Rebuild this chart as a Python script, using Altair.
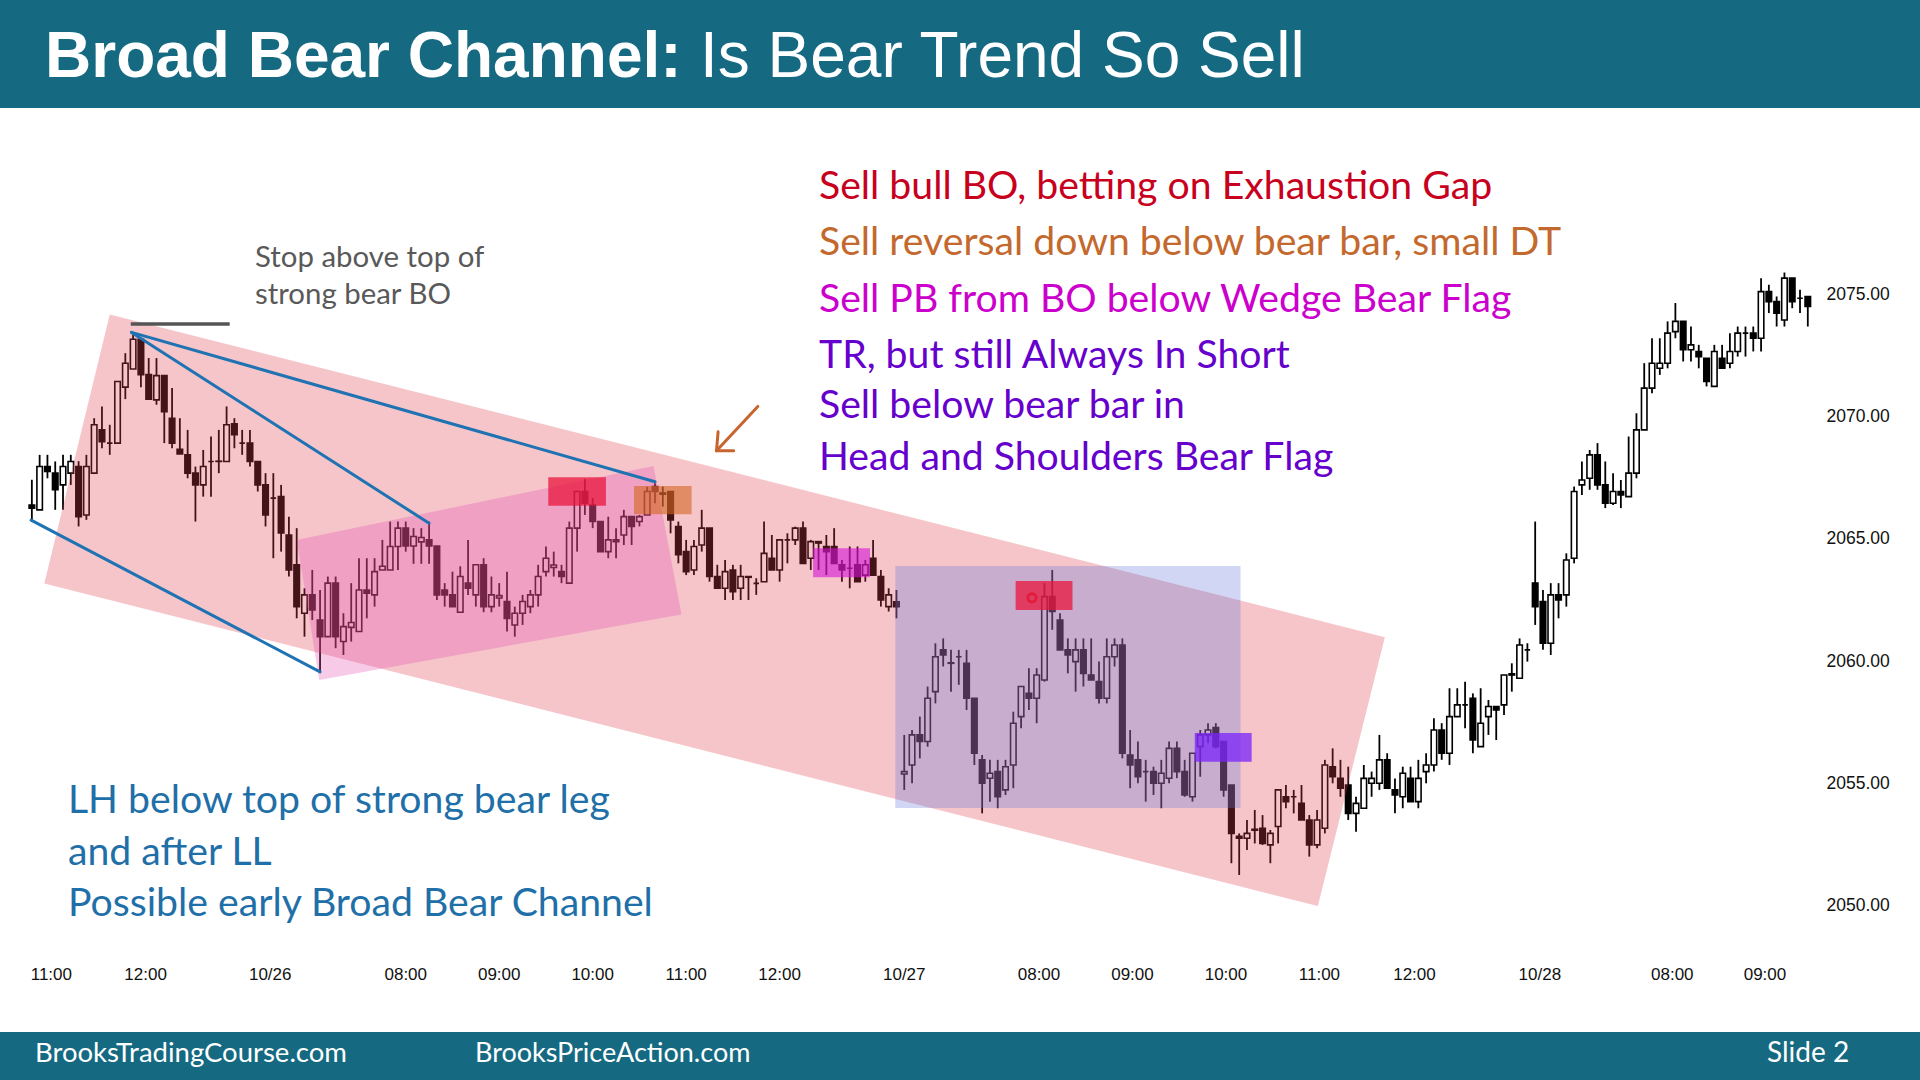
import altair as alt
import pandas as pd

# ---------------- data (5-minute bars, S&P e-mini) ----------------
OPEN = [
 2066.41, 2066.21, 2067.98, 2067.71, 2067.23, 2067.71, 2067.98, 2066.00, 2067.71, 2069.48,
 2068.94, 2068.94, 2071.23, 2071.97, 2073.19, 2071.74, 2070.71, 2071.70, 2069.96, 2068.69,
 2068.46, 2067.71, 2067.23, 2068.19, 2068.19, 2068.19, 2069.73, 2068.94, 2068.94, 2068.19,
 2067.23, 2066.69, 2066.75, 2065.18, 2063.96, 2061.98, 2062.73, 2061.70, 2061.02, 2063.21,
 2060.82, 2061.40, 2061.23, 2062.93, 2062.73, 2063.75, 2063.75, 2064.71, 2065.46, 2064.73,
 2064.90, 2064.98, 2064.73, 2062.93, 2062.73, 2062.02, 2063.21, 2062.73, 2063.96, 2062.25,
 2062.60, 2062.46, 2061.50, 2061.98, 2062.25, 2062.73, 2063.68, 2063.85, 2063.68, 2063.21,
 2065.46, 2066.96, 2066.41, 2065.73, 2064.50, 2064.98, 2065.18, 2065.93, 2065.73, 2066.00,
 2067.16, 2066.90, 2066.96, 2065.53, 2064.50, 2063.75, 2064.77, 2065.46, 2063.48, 2063.00,
 2063.75, 2063.00, 2063.48, 2063.20, 2063.27, 2064.23, 2063.75, 2064.98, 2064.98, 2065.46,
 2064.23, 2064.91, 2064.71, 2064.71, 2063.96, 2063.82, 2063.96, 2063.54, 2064.23, 2063.48,
 2062.25, 2062.45, 2055.40, 2055.77, 2057.00, 2056.73, 2058.77, 2060.48, 2059.95, 2060.20,
 2059.93, 2058.50, 2055.98, 2055.23, 2055.50, 2054.75, 2055.77, 2057.75, 2058.70, 2058.50,
 2059.25, 2062.66, 2061.70, 2060.48, 2060.00, 2060.48, 2059.45, 2059.18, 2058.50, 2060.20,
 2060.68, 2056.18, 2055.98, 2055.50, 2055.50, 2055.02, 2055.23, 2056.45, 2055.50, 2054.47,
 2056.52, 2057.00, 2057.30, 2056.73, 2054.95, 2052.85, 2052.77, 2053.10, 2053.18, 2052.50,
 2053.25, 2054.47, 2054.47, 2054.20, 2053.52, 2052.50, 2053.18, 2055.70, 2055.22, 2054.95,
 2053.79, 2054.00, 2055.02, 2055.02, 2055.98, 2054.75, 2054.47, 2055.22, 2054.27, 2055.50,
 2055.77, 2057.20, 2056.25, 2057.75, 2058.23, 2058.50, 2056.52, 2057.75, 2058.16, 2058.23,
 2059.45, 2059.32, 2060.48, 2063.21, 2062.46, 2060.75, 2062.73, 2062.73, 2064.23, 2067.23,
 2067.50, 2068.46, 2067.23, 2066.48, 2066.96, 2066.75, 2067.71, 2069.48, 2071.19, 2072.00,
 2072.21, 2073.50, 2073.92, 2072.76, 2072.69, 2072.41, 2071.26, 2072.41, 2072.21, 2072.69,
 2073.44, 2073.44, 2073.23, 2075.14, 2074.73, 2073.98, 2075.69, 2074.87, 2074.94,
]
HIGH = [
 2067.44, 2068.46, 2068.46, 2068.19, 2068.46, 2068.46, 2068.20, 2068.46, 2069.96, 2070.44,
 2069.69, 2071.46, 2072.62, 2073.44, 2073.19, 2072.42, 2072.42, 2071.70, 2071.19, 2069.96,
 2069.48, 2067.98, 2068.66, 2069.21, 2069.48, 2070.44, 2069.96, 2069.48, 2069.48, 2068.19,
 2067.71, 2067.71, 2067.23, 2065.93, 2065.46, 2063.00, 2063.75, 2062.93, 2063.48, 2063.48,
 2061.98, 2063.21, 2064.23, 2064.23, 2064.23, 2064.98, 2065.73, 2065.73, 2065.73, 2065.46,
 2065.46, 2065.73, 2064.73, 2063.21, 2063.68, 2063.90, 2064.98, 2063.96, 2064.23, 2063.48,
 2063.21, 2063.68, 2062.25, 2062.73, 2062.93, 2063.96, 2064.71, 2064.50, 2063.96, 2065.73,
 2066.96, 2067.46, 2066.69, 2065.73, 2065.93, 2065.46, 2066.21, 2065.93, 2066.00, 2067.16,
 2067.30, 2067.16, 2066.96, 2065.73, 2064.98, 2064.98, 2066.21, 2065.46, 2063.96, 2064.16,
 2063.96, 2063.96, 2063.50, 2063.41, 2065.73, 2065.18, 2064.98, 2065.25, 2065.52, 2065.73,
 2064.98, 2064.91, 2065.18, 2065.46, 2064.16, 2064.71, 2064.71, 2064.16, 2064.98, 2063.75,
 2063.00, 2062.93, 2057.00, 2057.20, 2057.75, 2058.98, 2060.75, 2060.95, 2060.48, 2060.48,
 2060.48, 2058.50, 2056.18, 2055.98, 2055.98, 2055.98, 2057.95, 2058.98, 2059.73, 2059.73,
 2063.21, 2063.75, 2061.98, 2060.95, 2060.95, 2060.95, 2060.95, 2060.00, 2060.95, 2060.95,
 2060.95, 2057.20, 2056.73, 2055.98, 2055.70, 2055.98, 2056.73, 2056.73, 2055.98, 2056.25,
 2057.20, 2057.48, 2057.48, 2056.73, 2054.95, 2052.97, 2053.52, 2053.93, 2053.72, 2053.11,
 2054.75, 2054.95, 2054.75, 2054.95, 2053.72, 2053.93, 2055.98, 2056.45, 2055.98, 2055.70,
 2054.47, 2055.77, 2055.50, 2057.00, 2056.25, 2055.22, 2055.70, 2055.70, 2055.98, 2056.25,
 2057.68, 2057.48, 2058.91, 2058.91, 2059.18, 2058.70, 2058.91, 2058.43, 2058.16, 2059.45,
 2059.93, 2060.95, 2060.75, 2065.73, 2062.93, 2063.21, 2063.21, 2064.43, 2067.16, 2068.19,
 2068.66, 2068.94, 2068.19, 2067.71, 2067.43, 2069.21, 2070.16, 2072.21, 2073.23, 2073.23,
 2073.92, 2074.67, 2073.92, 2073.71, 2072.96, 2072.41, 2072.96, 2072.96, 2073.44, 2073.71,
 2073.71, 2073.71, 2075.69, 2075.42, 2074.94, 2075.92, 2075.69, 2075.21, 2074.94,
]
LOW = [
 2065.80, 2066.21, 2067.50, 2066.21, 2066.21, 2067.23, 2065.53, 2065.80, 2067.71, 2068.73,
 2068.46, 2068.94, 2070.74, 2071.97, 2071.23, 2070.74, 2070.51, 2068.94, 2068.73, 2068.50,
 2067.50, 2065.73, 2066.75, 2066.75, 2067.71, 2068.19, 2068.73, 2068.46, 2067.98, 2066.96,
 2065.53, 2064.23, 2064.50, 2063.48, 2061.77, 2061.02, 2061.70, 2059.59, 2061.02, 2060.55,
 2060.27, 2060.82, 2061.23, 2061.77, 2062.25, 2063.75, 2063.75, 2063.75, 2064.50, 2064.00,
 2064.00, 2064.00, 2062.52, 2062.25, 2062.25, 2062.02, 2062.73, 2062.25, 2062.02, 2062.02,
 2062.25, 2061.23, 2061.02, 2061.50, 2061.98, 2062.25, 2063.48, 2063.48, 2063.21, 2063.21,
 2064.50, 2066.00, 2065.46, 2064.50, 2064.23, 2064.23, 2064.77, 2064.77, 2065.53, 2066.00,
 2066.48, 2066.34, 2065.25, 2064.02, 2063.54, 2063.54, 2064.50, 2063.27, 2063.00, 2062.52,
 2062.52, 2062.52, 2062.52, 2062.73, 2063.27, 2063.75, 2063.27, 2064.02, 2064.77, 2064.02,
 2063.75, 2063.75, 2063.54, 2064.02, 2063.27, 2063.00, 2063.27, 2063.27, 2063.54, 2062.25,
 2062.05, 2061.77, 2054.75, 2055.02, 2056.04, 2056.52, 2058.29, 2059.80, 2058.77, 2059.05,
 2058.02, 2055.77, 2053.79, 2054.27, 2054.00, 2054.54, 2054.82, 2057.27, 2058.02, 2057.48,
 2059.18, 2061.30, 2060.48, 2059.52, 2058.77, 2058.98, 2059.25, 2058.29, 2058.29, 2059.80,
 2056.04, 2054.82, 2055.02, 2054.27, 2054.54, 2054.00, 2055.02, 2055.23, 2054.47, 2054.27,
 2055.29, 2056.66, 2056.45, 2054.47, 2051.75, 2051.27, 2052.29, 2052.56, 2052.50, 2051.75,
 2052.56, 2054.00, 2053.79, 2053.52, 2052.02, 2052.36, 2052.97, 2055.02, 2054.47, 2053.52,
 2053.04, 2054.00, 2054.47, 2054.75, 2054.82, 2053.79, 2054.00, 2054.27, 2054.00, 2055.02,
 2055.50, 2055.98, 2055.77, 2057.75, 2057.27, 2056.25, 2056.52, 2057.00, 2056.79, 2057.82,
 2058.77, 2059.32, 2060.00, 2061.50, 2060.48, 2060.27, 2061.77, 2062.25, 2064.02, 2066.82,
 2067.03, 2067.03, 2066.28, 2066.41, 2066.28, 2066.75, 2067.50, 2069.48, 2070.98, 2071.73,
 2072.00, 2073.23, 2072.28, 2072.28, 2072.00, 2071.26, 2071.26, 2072.00, 2072.00, 2072.48,
 2072.48, 2072.69, 2072.69, 2074.26, 2073.71, 2073.71, 2074.46, 2074.26, 2073.71,
]
CLOSE = [
 2066.28, 2067.98, 2067.78, 2067.03, 2067.98, 2068.19, 2065.93, 2067.98, 2069.69, 2069.00,
 2068.94, 2071.46, 2072.21, 2073.19, 2071.74, 2070.74, 2071.70, 2070.23, 2068.94, 2068.50,
 2067.71, 2067.23, 2067.98, 2068.19, 2068.20, 2069.69, 2069.28, 2068.94, 2068.19, 2067.23,
 2066.00, 2066.69, 2065.26, 2063.75, 2062.25, 2062.73, 2062.11, 2061.02, 2063.21, 2061.02,
 2061.43, 2061.60, 2062.93, 2062.80, 2063.68, 2063.90, 2064.71, 2065.46, 2064.73, 2065.12,
 2065.08, 2064.73, 2062.73, 2062.73, 2062.25, 2063.48, 2063.00, 2063.96, 2062.25, 2062.73,
 2062.70, 2061.77, 2061.98, 2062.46, 2062.73, 2063.48, 2064.23, 2063.95, 2063.48, 2065.46,
 2066.96, 2066.48, 2065.73, 2064.50, 2064.98, 2064.91, 2065.93, 2065.53, 2065.93, 2066.96,
 2066.96, 2066.85, 2065.80, 2064.37, 2063.68, 2064.71, 2065.46, 2063.48, 2063.00, 2063.68,
 2062.86, 2063.48, 2063.45, 2063.20, 2064.43, 2063.75, 2064.98, 2064.98, 2065.46, 2064.02,
 2064.91, 2064.85, 2064.50, 2064.02, 2063.75, 2063.82, 2063.27, 2063.96, 2063.54, 2062.52,
 2062.73, 2062.25, 2055.50, 2057.00, 2056.73, 2058.50, 2060.20, 2060.27, 2059.93, 2060.20,
 2058.50, 2056.25, 2055.02, 2055.43, 2054.47, 2055.70, 2057.48, 2058.98, 2058.50, 2059.45,
 2062.66, 2062.05, 2060.48, 2060.27, 2060.48, 2059.52, 2059.25, 2058.50, 2060.20, 2060.68,
 2056.25, 2055.77, 2055.29, 2055.50, 2055.02, 2055.43, 2056.45, 2055.50, 2054.54, 2056.25,
 2057.00, 2057.20, 2056.52, 2054.75, 2052.97, 2052.77, 2052.97, 2053.14, 2052.56, 2052.97,
 2054.75, 2054.27, 2054.47, 2053.52, 2052.50, 2053.52, 2055.77, 2055.29, 2054.82, 2053.79,
 2054.20, 2055.22, 2055.22, 2055.98, 2054.82, 2054.54, 2055.43, 2054.27, 2055.22, 2055.77,
 2057.20, 2056.25, 2057.75, 2058.23, 2058.23, 2056.79, 2057.48, 2058.16, 2058.02, 2059.45,
 2059.50, 2060.68, 2060.48, 2062.25, 2060.75, 2062.73, 2062.52, 2064.16, 2066.96, 2067.43,
 2068.46, 2067.23, 2066.48, 2066.96, 2066.82, 2067.71, 2069.48, 2071.19, 2072.21, 2072.21,
 2073.44, 2073.92, 2072.76, 2072.96, 2072.48, 2071.46, 2072.69, 2072.00, 2072.69, 2073.44,
 2073.44, 2073.23, 2075.14, 2074.73, 2074.26, 2075.69, 2074.73, 2074.87, 2074.53,
]

TICK_POS = [2.5, 14.6, 30.6, 48, 60, 72, 84, 96, 112, 129.3, 141.3, 153.3, 165.3, 177.5, 193.6, 210.6, 222.5]
TICK_LABELS = ["11:00", "12:00", "10/26", "08:00", "09:00", "10:00", "11:00", "12:00",
               "10/27", "08:00", "09:00", "10:00", "11:00", "12:00", "10/28", "08:00", "09:00"]
PRICE_TICKS = [2050, 2055, 2060, 2065, 2070, 2075]

# annotation geometry in (bar index, price)
CHANNEL = [(10.0, 2074.2), (173.7, 2061.0), (165.1, 2050.0), (1.6, 2063.2)]
WEDGE_FLAG = [(34.0, 2064.98), (79.8, 2068.0), (83.4, 2061.93), (36.9, 2059.25)]
TR_BOX = (110.85, 155.17, 2054.01, 2063.91)
SIGNAL_BOXES = [
    (66.3, 73.7, 2066.38, 2067.54, "#e8163c", 0.75),
    (77.3, 84.7, 2066.03, 2067.18, "#d3661f", 0.6),
    (100.3, 107.6, 2063.45, 2064.64, "#d413d7", 0.6),
    (126.3, 133.6, 2062.11, 2063.30, "#e8163c", 0.75),
    (149.3, 156.6, 2055.90, 2057.08, "#7823fb", 0.75),
]
TREND_LINES = [
    (12.8, 2073.47, 80.0, 2067.36),
    (12.8, 2073.47, 51.0, 2065.66),
    (-0.1, 2065.79, 37.0, 2059.58),
]
STOP_LINE = (12.7, 25.4, 2073.81)
ENTRY_MARK = (128.4, 2062.61)
ARROW = [
    (93.2, 2070.44, 87.9, 2068.63),
    (87.9, 2068.63, 88.1, 2069.40),
    (87.9, 2068.63, 90.1, 2068.63),
]

# ---------------- scales ----------------
X_DOMAIN = [-27 / 7.83, (1920 - 27) / 7.83]
Y_DOMAIN = [2050 - 174 / 24.44, 2050 + 906 / 24.44]
XS = alt.Scale(domain=X_DOMAIN, nice=False, zero=False)
YS = alt.Scale(domain=Y_DOMAIN, nice=False, zero=False)

# where the axis labels sit, in data units
TIME_LABEL_PRICE = 2050 - 69 / 24.44
PRICE_LABEL_INDEX = (1831 - 27) / 7.83


def X(field):
    return alt.X(field, scale=XS, axis=None)


def Y(field):
    return alt.Y(field, scale=YS, axis=None)


def band(corners):
    xs = sorted(set(p[0] for p in corners))
    rows = []
    n = len(corners)
    for x in xs:
        vals = []
        for k in range(n):
            (x1, y1), (x2, y2) = corners[k], corners[(k + 1) % n]
            if x1 != x2 and min(x1, x2) <= x <= max(x1, x2):
                vals.append(y1 + (y2 - y1) * (x - x1) / (x2 - x1))
        rows.append({"x": x, "lo": min(vals), "hi": max(vals)})
    return pd.DataFrame(rows)


bars = pd.DataFrame({"i": list(range(len(OPEN))), "open": OPEN, "high": HIGH,
                     "low": LOW, "close": CLOSE})
bars["dir"] = ["up" if c >= o else "down" for o, c in zip(OPEN, CLOSE)]

one = pd.DataFrame({"a": [0]})

layers = []

# wicks
layers.append(alt.Chart(bars).mark_rule(color="black", strokeWidth=1.8).encode(
    x=X("i:Q"), y=Y("low:Q"), y2="high:Q"))
# bodies
layers.append(alt.Chart(bars).mark_bar(size=5.5, stroke="black", strokeWidth=1.6).encode(
    x=X("i:Q"), y=Y("open:Q"), y2="close:Q",
    fill=alt.Fill("dir:N", scale=alt.Scale(domain=["up", "down"], range=["white", "black"]),
                  legend=None)))

# axis labels
xt = pd.DataFrame({"i": TICK_POS, "lab": TICK_LABELS, "p": [TIME_LABEL_PRICE] * len(TICK_POS)})
layers.append(alt.Chart(xt).mark_text(font="Liberation Sans", fontSize=17, color="#111111",
                                      align="center", baseline="middle").encode(
    x=X("i:Q"), y=Y("p:Q"), text="lab:N"))
yt = pd.DataFrame({"p": PRICE_TICKS, "lab": [f"{v:.2f}" for v in PRICE_TICKS],
                   "i": [PRICE_LABEL_INDEX] * len(PRICE_TICKS)})
layers.append(alt.Chart(yt).mark_text(font="Liberation Sans", fontSize=17.5, color="#111111",
                                      align="left", baseline="middle").encode(
    x=X("i:Q"), y=Y("p:Q"), text="lab:N"))

# broad bear channel
layers.append(alt.Chart(band(CHANNEL)).mark_area(color="#de3e4e", opacity=0.3).encode(
    x=X("x:Q"), y=Y("lo:Q"), y2="hi:Q"))
# wedge bear flag
layers.append(alt.Chart(band(WEDGE_FLAG)).mark_area(color="#e650b4", opacity=0.3).encode(
    x=X("x:Q"), y=Y("lo:Q"), y2="hi:Q"))
# trading range box
trb = pd.DataFrame([{"x1": TR_BOX[0], "x2": TR_BOX[1], "y1": TR_BOX[2], "y2": TR_BOX[3]}])
layers.append(alt.Chart(trb).mark_rect(color="#6478dc", opacity=0.3).encode(
    x=X("x1:Q"), x2="x2:Q", y=Y("y1:Q"), y2="y2:Q"))
# signal boxes
sb = pd.DataFrame([{"x1": a, "x2": b, "y1": c, "y2": d, "col": e, "op": f}
                   for a, b, c, d, e, f in SIGNAL_BOXES])
layers.append(alt.Chart(sb).mark_rect().encode(
    x=X("x1:Q"), x2="x2:Q", y=Y("y1:Q"), y2="y2:Q",
    fill=alt.Fill("col:N", scale=None), opacity=alt.Opacity("op:Q", scale=None)))
# trend lines
tl = pd.DataFrame([{"x1": a, "y1": b, "x2": c, "y2": d} for a, b, c, d in TREND_LINES])
layers.append(alt.Chart(tl).mark_rule(color="#1f73b3", strokeWidth=3, strokeCap="round").encode(
    x=X("x1:Q"), y=Y("y1:Q"), x2="x2:Q", y2="y2:Q"))
# stop line
sl = pd.DataFrame([{"x1": STOP_LINE[0], "x2": STOP_LINE[1], "y": STOP_LINE[2]}])
layers.append(alt.Chart(sl).mark_rule(color="#555555", strokeWidth=3.5).encode(
    x=X("x1:Q"), x2="x2:Q", y=Y("y:Q")))
# entry circle
em = pd.DataFrame([{"x": ENTRY_MARK[0], "y": ENTRY_MARK[1]}])
layers.append(alt.Chart(em).mark_point(shape="circle", size=70, filled=False, color="#e0102a",
                                       strokeWidth=2.6).encode(x=X("x:Q"), y=Y("y:Q")))
# arrow
ar = pd.DataFrame([{"x1": a, "y1": b, "x2": c, "y2": d} for a, b, c, d in ARROW])
layers.append(alt.Chart(ar).mark_rule(color="#c8642d", strokeWidth=3, strokeCap="round").encode(
    x=X("x1:Q"), y=Y("y1:Q"), x2="x2:Q", y2="y2:Q"))


def rect_px(x1, x2, y1, y2, color):
    return alt.Chart(one).mark_rect(color=color).encode(
        x=alt.value(x1), x2=alt.value(x2), y=alt.value(y1), y2=alt.value(y2))


def text_px(txt, x, y, size, color, font="Lato", weight="normal", baseline="alphabetic",
            align="left"):
    return alt.Chart(one).mark_text(text=txt, font=font, fontSize=size, fontWeight=weight,
                                    color=color, align=align, baseline=baseline).encode(
        x=alt.value(x), y=alt.value(y))


BANNER = "#156a82"
layers.append(rect_px(0, 1920, 0, 108, BANNER))
layers.append(rect_px(0, 1920, 1032, 1080, BANNER))
layers.append(text_px("Broad Bear Channel:", 45, 77, 64, "white", font="Liberation Sans",
                      weight="bold"))
layers.append(text_px("Is Bear Trend So Sell", 700, 77, 64, "white", font="Liberation Sans"))

layers.append(text_px("BrooksTradingCourse.com", 35, 1054, 27.5, "white", baseline="middle"))
layers.append(text_px("BrooksPriceAction.com", 475, 1054, 27, "white", baseline="middle"))
layers.append(text_px("Slide  2", 1767, 1054, 28, "white", baseline="middle"))

RIGHT_NOTES = [
    ("Sell bull BO, betting on Exhaustion Gap", 199, "#c8001e"),
    ("Sell reversal down below bear bar, small DT", 255, "#c4692d"),
    ("Sell PB from BO below Wedge Bear Flag", 312, "#cc00cc"),
    ("TR, but still Always In Short", 368, "#6600cc"),
    ("Sell below bear bar in", 418, "#6600cc"),
    ("Head and Shoulders Bear Flag", 470, "#6600cc"),
]
for t, y, c in RIGHT_NOTES:
    layers.append(text_px(t, 819, y, 39.2, c))

LEFT_NOTES = [
    ("LH below top of strong bear leg", 813),
    ("and after LL", 865),
    ("Possible early Broad Bear Channel", 916),
]
for t, y in LEFT_NOTES:
    layers.append(text_px(t, 68, y, 39.2, "#1f6fa8"))

layers.append(text_px("Stop above top of", 255, 267, 29.4, "#595959"))
layers.append(text_px("strong bear BO", 255, 304, 29.4, "#595959"))

chart = alt.layer(*layers).properties(
    width=1920, height=1080, padding=0, background="white",
    autosize=alt.AutoSizeParams(type="none"),
).configure_view(stroke=None)

chart.save("out.html", embed_options={"renderer": "svg", "actions": False})
